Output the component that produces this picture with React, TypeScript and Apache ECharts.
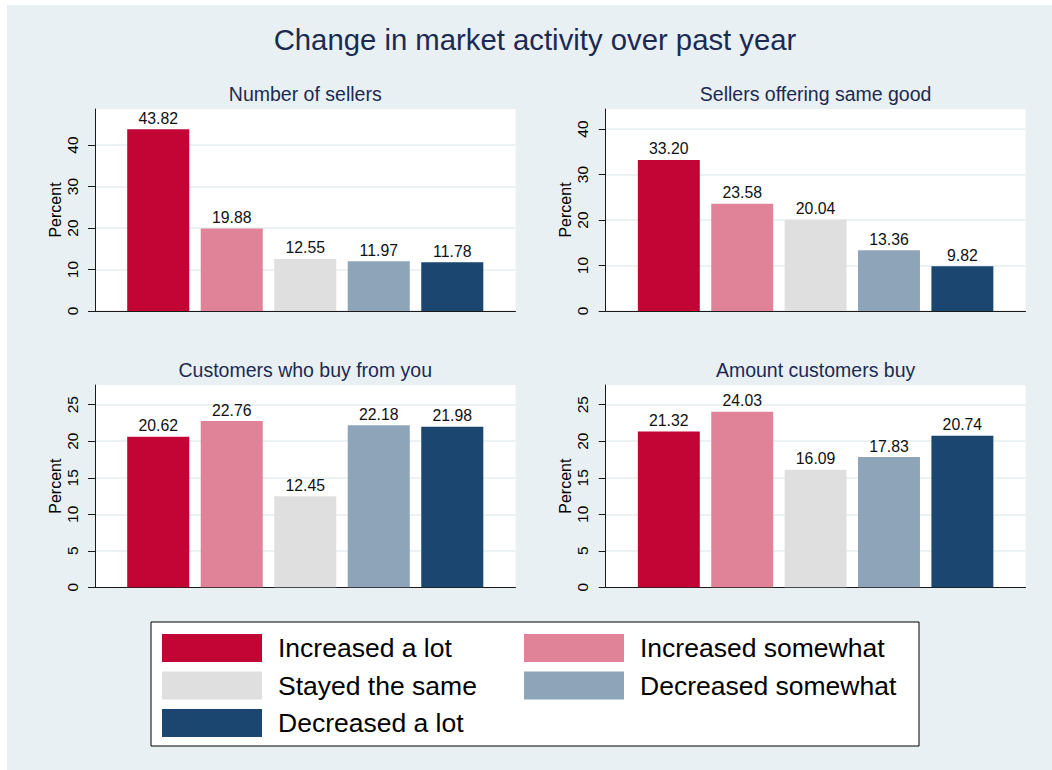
import React, { useEffect, useRef } from "react";
import * as echarts from "echarts";

const categories = [
  "Increased a lot",
  "Increased somewhat",
  "Stayed the same",
  "Decreased somewhat",
  "Decreased a lot",
];
const barColors = ["#C20534", "#E08398", "#DFDFDF", "#8EA4B8", "#1B4670"];
const mainTitle = "Change in market activity over past year";
const panelTitles = [
  "Number of sellers",
  "Sellers offering same good",
  "Customers who buy from you",
  "Amount customers buy",
];
const numberOfSellers = [43.82, 19.88, 12.55, 11.97, 11.78];
const sellersSameGood = [33.2, 23.58, 20.04, 13.36, 9.82];
const customersWhoBuy = [20.62, 22.76, 12.45, 22.18, 21.98];
const amountCustomersBuy = [21.32, 24.03, 16.09, 17.83, 20.74];
const topTicks = [0, 10, 20, 30, 40];
const bottomTicks = [0, 5, 10, 15, 20, 25];
const yAxisTitle = "Percent";

const OX = 7;
const OY = 5;
const FONT = "'Liberation Sans', Arial, Helvetica, sans-serif";

export default function App() {
  const ref = useRef<HTMLDivElement>(null);
  useEffect(() => {
    if (!ref.current) return;
    const chart = echarts.init(ref.current, undefined, { renderer: "svg" });
    const panelValues = [numberOfSellers, sellersSameGood, customersWhoBuy, amountCustomersBuy];
    const panels = [
      { l: 95, r: 515.5, t: 109, b: 311, max: 48.7, ticks: topTicks, titleBase: 100.7 },
      { l: 605.7, r: 1025.5, t: 109, b: 311, max: 44.4, ticks: topTicks, titleBase: 100.7 },
      { l: 95, r: 515.5, t: 385, b: 587.3, max: 27.7, ticks: bottomTicks, titleBase: 376.7 },
      { l: 605.7, r: 1025.5, t: 385, b: 587.3, max: 27.7, ticks: bottomTicks, titleBase: 376.7 },
    ];
    const xMin = -0.86;
    const xMax = 4.86;
    const subFs = 19.5;
    const titleFs = 29.3;

    const titles: any[] = [
      {
        text: mainTitle,
        left: 535 - OX,
        top: 50 - 0.8465 * titleFs - OY,
        textAlign: "center",
        textStyle: { fontSize: titleFs, fontWeight: "normal", color: "#1C2A52", fontFamily: FONT },
        padding: 0,
      },
    ];
    const grids: any[] = [];
    const xAxes: any[] = [];
    const yAxes: any[] = [];
    const series: any[] = [];
    panels.forEach((p, pi) => {
      titles.push({
        text: panelTitles[pi],
        left: (p.l + p.r) / 2 - OX,
        top: p.titleBase - 0.8465 * subFs - OY,
        textAlign: "center",
        padding: 0,
        textStyle: { fontSize: subFs, fontWeight: "normal", color: "#1C2A52", fontFamily: FONT },
      });
      grids.push({
        left: p.l - OX,
        top: p.t - OY,
        width: p.r - p.l,
        height: p.b - p.t,
        show: true,
        backgroundColor: "#FFFFFF",
        borderWidth: 0,
      });
      xAxes.push({
        gridIndex: pi,
        type: "value",
        min: xMin,
        max: xMax,
        axisLine: { show: true, onZero: false, lineStyle: { color: "#1A1A1A", width: 1 } },
        axisTick: { show: false },
        axisLabel: { show: false },
        splitLine: { show: false },
      });
      yAxes.push({
        gridIndex: pi,
        type: "value",
        min: 0,
        max: p.max,
        name: yAxisTitle,
        nameLocation: "middle",
        nameRotate: 90,
        nameGap: 30,
        nameTextStyle: { fontSize: 16, color: "#000", fontFamily: FONT },
        axisLine: { show: true, onZero: false, lineStyle: { color: "#1A1A1A", width: 1 } },
        axisTick: { show: true, length: 7, customValues: p.ticks, lineStyle: { color: "#1A1A1A", width: 1 } },
        axisLabel: {
          rotate: 90,
          margin: 15,
          fontSize: 15.5,
          color: "#000",
          fontFamily: FONT,
          customValues: p.ticks,
        },
        splitLine: { show: true, lineStyle: { color: "#E6EEF1", width: 1.5 } },
      });
      const barW = ((p.r - p.l) / (xMax - xMin)) * 0.844;
      panelValues[pi].forEach((v, ci) => {
        series.push({
          type: "bar",
          name: categories[ci],
          xAxisIndex: pi,
          yAxisIndex: pi,
          data: [[ci, v]],
          barWidth: barW,
          barGap: "-100%",
          itemStyle: { color: barColors[ci] },
          label: {
            show: true,
            position: "top",
            distance: 3,
            fontSize: 15.8,
            color: "#111",
            fontFamily: FONT,
            formatter: (d: any) => Number(d.value[1]).toFixed(2),
          },
        });
      });
    });

    const legendCommon = {
      orient: "vertical",
      top: 634 - OY,
      itemWidth: 100,
      itemHeight: 28,
      itemGap: 9.5,
      icon: "rect",
      selectedMode: false,
      padding: 0,
      z: 5,
      textStyle: { fontSize: 26.5, color: "#000", fontFamily: FONT, padding: [0, 0, 0, 11] },
    };

    chart.setOption({
      animation: false,
      backgroundColor: "#E8F0F3",
      textStyle: { fontFamily: FONT },
      title: titles,
      grid: grids,
      xAxis: xAxes,
      yAxis: yAxes,
      series,
      legend: [
        { ...legendCommon, left: 162 - OX, data: [categories[0], categories[2], categories[4]] },
        { ...legendCommon, left: 524 - OX, data: [categories[1], categories[3]] },
      ],
      graphic: [
        {
          type: "rect",
          z: 1,
          shape: { x: 151 - OX, y: 622 - OY, width: 768, height: 124 },
          style: { fill: "#FFFFFF", stroke: "#000000", lineWidth: 1 },
        },
      ],
    });
    return () => chart.dispose();
  }, []);
  return (
    <div
      ref={ref}
      style={{ position: "absolute", left: OX, top: OY, width: 1052 - OX, height: 770 - OY }}
    />
  );
}
